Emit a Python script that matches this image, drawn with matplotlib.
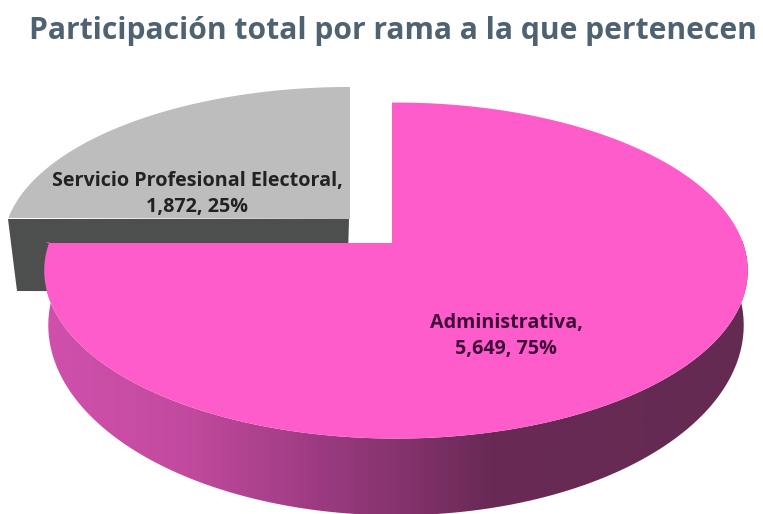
import numpy as np
import matplotlib
matplotlib.use("Agg")
import matplotlib.pyplot as plt
from matplotlib.colors import LinearSegmentedColormap
from matplotlib.patches import Polygon

TITLE = "Participación total por rama a la que pertenecen"
CATEGORIES = ["Administrativa", "Servicio Profesional Electoral"]
VALUES = [5649, 1872]

PINK = "#ff5ccb"
GRAY = "#bdbdbd"
DARK_GRAY = "#4d4f4f"
# shading of the side wall, position along x in the picture and colour
SIDE_X = [45, 186, 326, 420, 490, 748]
SIDE_COLORS = ["#d050ac", "#c24a9e", "#9a3a80", "#803168", "#692a56", "#642a52"]

K = 0.164  # perspective of the tilted disc


def rim(t_deg, cx, cy, rx, ry):
    # t runs clockwise from 12 o'clock, as the slices do
    t = np.radians(t_deg)
    u, v = np.sin(t), np.cos(t)
    w = 1 + K * v
    return np.column_stack([cx + rx * u / w, cy - ry * v / w])


fig = plt.figure(figsize=(7.63, 5.14), dpi=100)
ax = fig.add_axes([0, 0, 1, 1])

total = sum(VALUES)
pink_sweep = 360 * VALUES[0] / total
gray_sweep = 360 * VALUES[1] / total

# gray slice, pulled out to the upper left
gray_t = np.linspace(pink_sweep, pink_sweep + gray_sweep, 100)
gray_arc = rim(gray_t, 350, 219, 342, 153.7)
ax.add_patch(Polygon([[8, 219], [349, 219], [347, 292], [17, 291]], color=DARK_GRAY, lw=0))
ax.add_patch(Polygon(np.vstack([[[350, 219]], gray_arc]), color=GRAY, lw=0))

# pink slice: side wall first, top face over it
side_t = np.linspace(60, pink_sweep, 200)
top_rim = rim(side_t, 396, 243, 347, 163.5)
low_rim = rim(side_t, 396, 294, 343, 185)
side = Polygon(np.vstack([top_rim, low_rim[::-1]]), fc="none", lw=0)
ax.add_patch(side)
stops = [(x - SIDE_X[0]) / (SIDE_X[-1] - SIDE_X[0]) for x in SIDE_X]
cmap = LinearSegmentedColormap.from_list("side", list(zip(stops, SIDE_COLORS)))
img = ax.imshow(np.linspace(0, 1, 256)[None, :], extent=[SIDE_X[0], SIDE_X[-1], 514, 240],
                cmap=cmap, aspect="auto")
img.set_clip_path(side)

pink_t = np.linspace(0, pink_sweep, 300)
pink_arc = rim(pink_t, 396, 243, 347, 163.5)
# the cut edges meet a little left of the rim's own centre
pink_top = np.vstack([[[392, 243], [392, pink_arc[0, 1]]], pink_arc, [[45, 243]]])
ax.add_patch(Polygon(pink_top, color=PINK, lw=0))

pct = [round(100 * v / total) for v in VALUES]
ax.text(506, 336, f"{CATEGORIES[0]},\n{VALUES[0]:,}, {pct[0]}%", ha="center", va="center",
        fontsize=14.2, fontweight="bold", color="#3f0a38", family="Open Sans", linespacing=1.45)
ax.text(197, 194, f"{CATEGORIES[1]},\n{VALUES[1]:,}, {pct[1]}%", ha="center", va="center",
        fontsize=14.2, fontweight="bold", color="#222222", family="Open Sans", linespacing=1.45)

ax.text(393, 31, TITLE, ha="center", va="center", fontsize=21.65, fontweight="bold",
        color="#4f6272", family="Open Sans")

ax.set_xlim(0, 763)
ax.set_ylim(514, 0)
ax.axis("off")

fig.savefig("out.png", dpi=100)
